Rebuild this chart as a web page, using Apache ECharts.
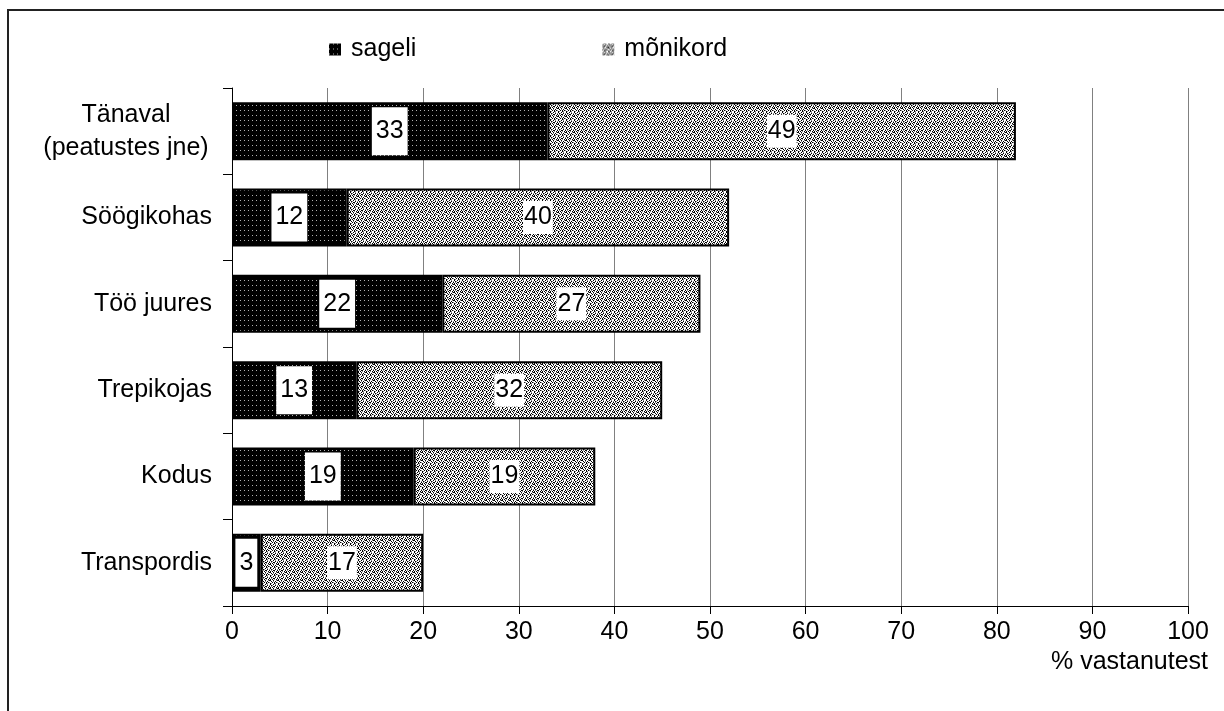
<!DOCTYPE html>
<html>
<head>
<meta charset="utf-8">
<script src="https://cdn.jsdelivr.net/npm/echarts@6/dist/echarts.min.js"></script>
<style>
  html, body { margin: 0; padding: 0; background: #fff; }
  #chart { width: 1224px; height: 711px; }
</style>
</head>
<body>
<div id="chart"></div>
<script>
// Categories listed top to bottom
const categories = ['Tänaval (peatustes jne)', 'Söögikohas', 'Töö juures', 'Trepikojas', 'Kodus', 'Transpordis'];
const seriesNames = ['sageli', 'mõnikord'];
const sageli = [33, 12, 22, 13, 19, 3];
const monikord = [49, 40, 27, 32, 19, 17];
const xTicks = [0, 10, 20, 30, 40, 50, 60, 70, 80, 90, 100];
const axisTitle = '% vastanutest';

const FONT = 'Liberation Sans, Arial, sans-serif';
const FS = 25;

// Small pixel tiles used as fill patterns
function makeTile(rows, palette) {
  const c = document.createElement('canvas');
  c.width = rows[0].length;
  c.height = rows.length;
  const ctx = c.getContext('2d');
  rows.forEach((row, y) => {
    for (let x = 0; x < row.length; x++) {
      ctx.fillStyle = palette[row[x]];
      ctx.fillRect(x, y, 1, 1);
    }
  });
  return c;
}
const palette = { b: '#000000', g: '#8a8a8a', w: '#ffffff', l: '#b0b0b0' };
const darkTile = makeTile([
  'lbbb',
  'bbbb',
  'bbbb',
  'bbbb',
  'bbbb'
], palette);
const lightTile = makeTile([
  'wbwgwwbw',
  'gwwbwgwb',
  'wbbwwbwg',
  'bwgwbwbw',
  'wbwwgbbw',
  'wgwbwwwb',
  'bwbwbgww',
  'wwbgwwbg'
], palette);

const darkFill = { image: darkTile, repeat: 'repeat' };
const lightFill = { image: lightTile, repeat: 'repeat' };

const chart = echarts.init(document.getElementById('chart'), null, { renderer: 'canvas' });

chart.setOption({
  animation: false,
  backgroundColor: '#ffffff',
  textStyle: { fontFamily: FONT },
  grid: { left: 232, right: 36, top: 88, bottom: 105, containLabel: false },
  legend: {
    data: seriesNames,
    left: 324,
    top: 32,
    icon: 'rect',
    itemWidth: 12,
    itemHeight: 12,
    itemGap: 186,
    itemStyle: { borderWidth: 0 },
    textStyle: { fontFamily: FONT, fontSize: FS, color: '#000', padding: [0, 0, 0, 5] }
  },
  xAxis: {
    type: 'value',
    min: xTicks[0],
    max: xTicks[xTicks.length - 1],
    interval: 10,
    axisLine: { show: true, lineStyle: { color: '#000', width: 1 } },
    axisTick: { show: true, length: 8, lineStyle: { color: '#000' } },
    axisLabel: { fontFamily: FONT, fontSize: FS, color: '#000', margin: 14 },
    splitLine: { show: true, lineStyle: { color: '#808080', width: 1 } }
  },
  yAxis: {
    type: 'category',
    data: categories,
    inverse: true,
    axisLine: { show: true, lineStyle: { color: '#000', width: 1 } },
    axisTick: { show: true, length: 9, lineStyle: { color: '#000' } },
    axisLabel: {
      fontFamily: FONT,
      fontSize: FS,
      color: '#000',
      margin: 20,
      formatter: function (v, i) {
        if (i === 0) {
          const parts = v.split(' (');
          return '{c|' + parts[0] + '}\n{c|(' + parts[1] + '}';
        }
        return v;
      },
      rich: {
        c: { width: 172, align: 'center', fontFamily: FONT, fontSize: FS, color: '#000', lineHeight: 33 }
      }
    },
    splitLine: { show: false }
  },
  series: [
    {
      name: seriesNames[0],
      type: 'bar',
      stack: 'total',
      data: sageli,
      barWidth: 58,
      itemStyle: { color: darkFill, borderColor: '#000', borderWidth: 2 },
      label: {
        show: true,
        position: 'inside',
        fontFamily: FONT,
        fontSize: FS,
        color: '#000',
        backgroundColor: '#fff',
        padding: [12, 4, 11, 4]
      }
    },
    {
      name: seriesNames[1],
      type: 'bar',
      stack: 'total',
      data: monikord,
      barWidth: 58,
      itemStyle: { color: lightFill, borderColor: '#000', borderWidth: 2 },
      label: {
        show: true,
        position: 'inside',
        fontFamily: FONT,
        fontSize: FS,
        color: '#000',
        backgroundColor: '#fff',
        padding: [4, 1, 4, 1]
      }
    }
  ],
  graphic: [
    {
      type: 'rect',
      shape: { x: 8, y: 10, width: 1400, height: 900 },
      style: { fill: 'none', stroke: '#222', lineWidth: 2 },
      silent: true
    },
    {
      type: 'text',
      right: 16,
      top: 650,
      style: { text: axisTitle, font: FS + 'px ' + FONT, fill: '#000' }
    }
  ]
});
</script>
</body>
</html>
